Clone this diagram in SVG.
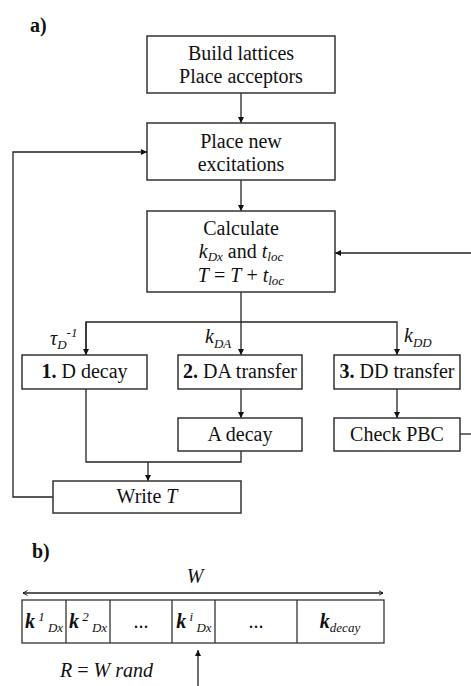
<svg xmlns="http://www.w3.org/2000/svg" width="471" height="686" viewBox="0 0 471 686">
  <style>
    text { font-family: "Liberation Serif", "Times New Roman", "DejaVu Serif", serif; fill: #111; }
    .t { font-size: 20px; text-anchor: middle; }
    .lab { font-size: 20px; font-weight: bold; }
    .it { font-style: italic; }
    .sub { font-size: 13px; font-style: italic; }
    .box { fill: #fff; stroke: #333; stroke-width: 1.5; }
    .wire { fill: none; stroke: #222; stroke-width: 1.3; }
    .cell { fill: none; stroke: #333; stroke-width: 1.3; }
  </style>
  <defs>
    <marker id="head" viewBox="0 0 10 10" refX="10" refY="5" markerWidth="8" markerHeight="6" markerUnits="userSpaceOnUse" orient="auto">
      <path d="M0,0 L10,5 L0,10 Z" fill="#111"/>
    </marker>
    <marker id="open" viewBox="0 0 10 10" refX="9" refY="5" markerWidth="5" markerHeight="6" markerUnits="userSpaceOnUse" orient="auto-start-reverse">
      <path d="M0,0 L9,5 L0,10" fill="none" stroke="#111" stroke-width="1.8"/>
    </marker>
  </defs>

  <!-- panel labels -->
  <text class="lab" x="30" y="32">a)</text>
  <text class="lab" x="32" y="558">b)</text>

  <!-- connectors of the flow chart -->
  <g id="connectors">
    <path class="wire" d="M241,93 V123" marker-end="url(#head)"/>
    <path class="wire" d="M241,180 V211" marker-end="url(#head)"/>
    <path class="wire" d="M241,292 V355" marker-end="url(#head)"/>
    <path class="wire" d="M86,355 V322 H397 V355" marker-end="url(#head)"/>
    <path class="wire" d="M86,322 V355" marker-end="url(#head)"/>
    <path class="wire" d="M241,389 V418" marker-end="url(#head)"/>
    <path class="wire" d="M397,389 V418" marker-end="url(#head)"/>
    <path class="wire" d="M86,389 V462 H241 V451"/>
    <path class="wire" d="M148,462 V481" marker-end="url(#head)"/>
    <path class="wire" d="M460,434 H471"/>
    <path class="wire" d="M471,253 H335" marker-end="url(#head)"/>
    <path class="wire" d="M53,497 H13 V152 H147" marker-end="url(#head)"/>
  </g>

  <!-- rate labels on the branches -->
  <g id="rate-labels">
    <text x="50" y="345" class="it" font-size="20">τ<tspan class="sub" dy="4">D</tspan><tspan class="sub" dy="-12">-1</tspan></text>
    <text x="205" y="343" class="it" font-size="20">k<tspan class="sub" dy="5">DA</tspan></text>
    <text x="404" y="342" class="it" font-size="20">k<tspan class="sub" dy="5">DD</tspan></text>
  </g>

  <g id="build">
    <rect class="box" x="147" y="36" width="188" height="57"/>
    <text class="t" x="241" y="60">Build lattices</text>
    <text class="t" x="241" y="83">Place acceptors</text>
  </g>

  <g id="place">
    <rect class="box" x="147" y="123" width="188" height="57"/>
    <text class="t" x="241" y="148">Place new</text>
    <text class="t" x="241" y="171">excitations</text>
  </g>

  <g id="calculate">
    <rect class="box" x="147" y="211" width="188" height="81"/>
    <text class="t" x="241" y="235">Calculate</text>
    <text class="t" x="241" y="258"><tspan class="it">k</tspan><tspan class="sub" font-size="12" dy="3">Dx</tspan><tspan dy="-3"> and </tspan><tspan class="it">t</tspan><tspan class="sub" font-size="12" dy="3">loc</tspan></text>
    <text class="t" x="241" y="282"><tspan class="it">T</tspan> = <tspan class="it">T</tspan> + <tspan class="it">t</tspan><tspan class="sub" font-size="12" dy="3">loc</tspan></text>
  </g>

  <g id="d-decay">
    <rect class="box" x="22" y="355" width="125" height="34"/>
    <text class="t" x="84.5" y="378"><tspan font-weight="bold">1.</tspan> D decay</text>
  </g>

  <g id="da-transfer">
    <rect class="box" x="178" y="355" width="124" height="34"/>
    <text class="t" x="240" y="378"><tspan font-weight="bold">2.</tspan> DA transfer</text>
  </g>

  <g id="dd-transfer">
    <rect class="box" x="334" y="355" width="126" height="34"/>
    <text class="t" x="397" y="378"><tspan font-weight="bold">3.</tspan> DD transfer</text>
  </g>

  <g id="a-decay">
    <rect class="box" x="178" y="418" width="124" height="33"/>
    <text class="t" x="240" y="441">A decay</text>
  </g>

  <g id="check-pbc">
    <rect class="box" x="334" y="418" width="126" height="33"/>
    <text class="t" x="397" y="441">Check PBC</text>
  </g>

  <g id="write-t">
    <rect class="box" x="53" y="481" width="188" height="32"/>
    <text class="t" x="147" y="503">Write <tspan class="it">T</tspan></text>
  </g>

  <!-- panel b: cumulative rate strip -->
  <g id="rate-strip">
    <text class="t it" x="195" y="583">W</text>
    <path class="wire" d="M23,593 H383" marker-start="url(#open)" marker-end="url(#open)"/>
    <rect class="cell" x="22" y="600" width="362" height="43"/>
    <path class="cell" d="M66,600 V643 M110,600 V643 M172,600 V643 M215,600 V643 M297,600 V643"/>
    <text class="t" x="44" y="628"><tspan class="it" font-weight="bold">k</tspan><tspan class="sub" dy="-7"> 1</tspan><tspan class="sub" dy="11"> Dx</tspan></text>
    <text class="t" x="88" y="628"><tspan class="it" font-weight="bold">k</tspan><tspan class="sub" dy="-7"> 2</tspan><tspan class="sub" dy="11"> Dx</tspan></text>
    <text class="t" x="141" y="628">...</text>
    <text class="t" x="194" y="628"><tspan class="it" font-weight="bold">k</tspan><tspan class="sub" dy="-7"> i</tspan><tspan class="sub" dy="11"> Dx</tspan></text>
    <text class="t" x="256" y="628">...</text>
    <text class="t" x="340" y="628"><tspan class="it" font-weight="bold">k</tspan><tspan class="sub" dy="4">decay</tspan></text>
    <path class="wire" d="M198,686 V650" marker-end="url(#head)"/>
    <text x="60" y="677" font-size="20"><tspan class="it">R</tspan> = <tspan class="it">W rand</tspan></text>
  </g>
</svg>
